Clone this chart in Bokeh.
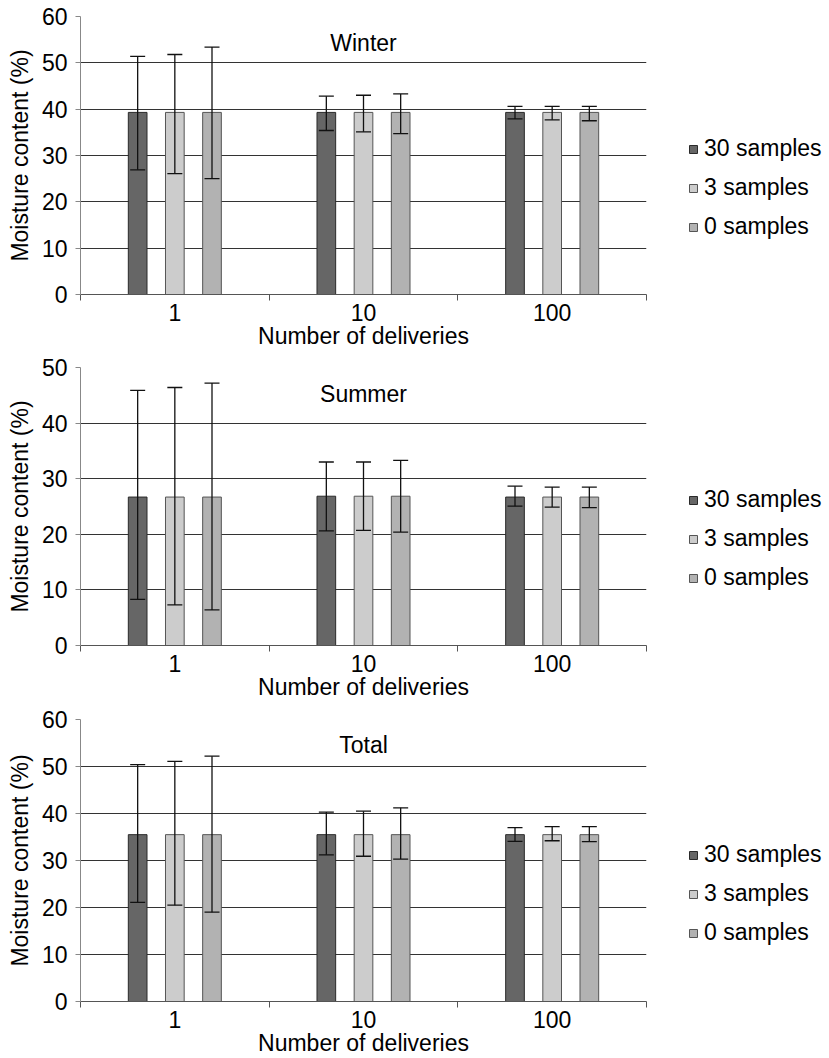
import numpy as np
from bokeh.plotting import figure
from bokeh.models import (Range1d, FixedTicker, Whisker, ColumnDataSource, Legend,
                          LegendItem, Label, TeeHead)
from bokeh.layouts import column
from bokeh.embed import file_html
from bokeh.resources import INLINE

# ---------------- data ----------------
categories = ["1", "10", "100"]          # Number of deliveries
series = ["30 samples", "3 samples", "0 samples"]

winter_mean = [39.3, 39.3, 39.3]
winter_hi_30 = [51.4, 42.8, 40.6]
winter_lo_30 = [26.9, 35.4, 37.9]
winter_hi_3 = [51.8, 43.0, 40.6]
winter_lo_3 = [26.1, 35.1, 37.7]
winter_hi_0 = [53.4, 43.3, 40.6]
winter_lo_0 = [25.0, 34.7, 37.5]

summer_mean = [26.7, 26.85, 26.7]
summer_hi_30 = [45.9, 33.0, 28.65]
summer_lo_30 = [8.3, 20.6, 25.05]
summer_hi_3 = [46.4, 33.0, 28.5]
summer_lo_3 = [7.3, 20.7, 24.9]
summer_hi_0 = [47.2, 33.3, 28.5]
summer_lo_0 = [6.4, 20.4, 24.8]

total_mean = [35.5, 35.5, 35.5]
total_hi_30 = [50.4, 40.3, 37.0]
total_lo_30 = [21.1, 31.2, 34.05]
total_hi_3 = [51.1, 40.5, 37.2]
total_lo_3 = [20.5, 30.9, 34.2]
total_hi_0 = [52.2, 41.2, 37.2]
total_lo_0 = [19.0, 30.3, 34.0]

# ---------------- style ----------------
FONT = "Liberation Sans"
FS = "23px"
colors = ["#666666", "#cccccc", "#b2b2b2"]
outlines = ["#2a2a2a", "#555555", "#555555"]
offsets = [-0.197, 0.0, 0.197]
bar_w = 0.099


def make_panel(title, ymax, means, his, los, frame_h, top, bottom, title_y, leg_y):
    p = figure(frame_width=566, frame_height=frame_h,
               x_range=Range1d(0, 3), y_range=Range1d(0, ymax),
               output_backend="svg", toolbar_location=None,
               min_border_left=80, min_border_right=183,
               min_border_top=top, min_border_bottom=bottom)
    p.outline_line_color = None
    p.background_fill_color = "white"
    p.border_fill_color = "white"
    p.xgrid.visible = False
    p.ygrid.grid_line_color = "#333333"
    p.ygrid.grid_line_width = 1
    p.ygrid.ticker = FixedTicker(ticks=list(range(0, ymax + 1, 10)))

    centers = np.arange(len(categories)) + 0.5
    items = []
    for j, name in enumerate(series):
        src = ColumnDataSource(dict(x=centers + offsets[j], top=means,
                                    hi=his[j], lo=los[j]))
        r = p.vbar(x="x", top="top", bottom=0, width=bar_w, source=src,
                   fill_color=colors[j], line_color=outlines[j], line_width=1)
        w = Whisker(base="x", upper="hi", lower="lo", source=src, dimension="height",
                    line_color="#111111", line_width=1.3, level="annotation",
                    upper_head=TeeHead(size=15, line_color="#111111", line_width=1.3),
                    lower_head=TeeHead(size=15, line_color="#111111", line_width=1.3))
        p.add_layout(w)
        items.append(LegendItem(label=name, renderers=[r]))

    # y axis
    ya = p.yaxis[0]
    ya.ticker = FixedTicker(ticks=list(range(0, ymax + 1, 10)))
    ya.axis_line_color = "#888888"
    ya.major_tick_line_color = "#888888"
    ya.major_tick_out = 5
    ya.major_tick_in = 0
    ya.minor_tick_line_color = None
    ya.major_label_standoff = 8
    ya.major_label_text_font = FONT
    ya.major_label_text_font_size = FS
    ya.major_label_text_color = "black"
    ya.axis_label = "Moisture content (%)"
    ya.axis_label_text_font = FONT
    ya.axis_label_text_font_size = FS
    ya.axis_label_text_font_style = "normal"
    ya.axis_label_text_color = "black"
    ya.axis_label_standoff = 6

    # x axis
    xa = p.xaxis[0]
    xa.ticker = FixedTicker(ticks=list(centers), minor_ticks=[0, 1, 2, 3])
    xa.major_label_overrides = {float(c): lab for c, lab in zip(centers, categories)}
    xa.axis_line_color = "#555555"
    xa.major_tick_line_color = None
    xa.major_tick_out = 0
    xa.major_tick_in = 0
    xa.minor_tick_line_color = "#555555"
    xa.minor_tick_out = 6
    xa.minor_tick_in = 0
    xa.major_label_standoff = 3
    xa.major_label_text_font = FONT
    xa.major_label_text_font_size = FS
    xa.major_label_text_color = "black"
    xa.axis_label = "Number of deliveries"
    xa.axis_label_text_font = FONT
    xa.axis_label_text_font_size = FS
    xa.axis_label_text_font_style = "normal"
    xa.axis_label_text_color = "black"
    xa.axis_label_standoff = -1

    p.add_layout(Label(x=1.5, y=title_y, text=title, text_align="center",
                       text_baseline="middle", text_font=FONT,
                       text_font_size=FS, text_color="black"))

    leg = Legend(items=items, location=(42, leg_y), orientation="vertical",
                 glyph_width=10, glyph_height=10, label_text_font=FONT,
                 label_text_font_size=FS, label_text_color="black",
                 label_height=26, spacing=12, label_standoff=6, padding=0, margin=0,
                 border_line_color=None, background_fill_alpha=0)
    p.add_layout(leg, "right")
    return p


p1 = make_panel("Winter", 60, winter_mean,
                [winter_hi_30, winter_hi_3, winter_hi_0],
                [winter_lo_30, winter_lo_3, winter_lo_0],
                frame_h=278, top=16, bottom=57, title_y=54.2, leg_y=54)
p2 = make_panel("Summer", 50, summer_mean,
                [summer_hi_30, summer_hi_3, summer_hi_0],
                [summer_lo_30, summer_lo_3, summer_lo_0],
                frame_h=278, top=16, bottom=57, title_y=45.2, leg_y=54)
p3 = make_panel("Total", 60, total_mean,
                [total_hi_30, total_hi_3, total_hi_0],
                [total_lo_30, total_lo_3, total_lo_0],
                frame_h=282, top=17, bottom=57, title_y=54.5, leg_y=55)

layout = column(p1, p2, p3, spacing=0)
open("out.html", "w").write(file_html(layout, INLINE))
